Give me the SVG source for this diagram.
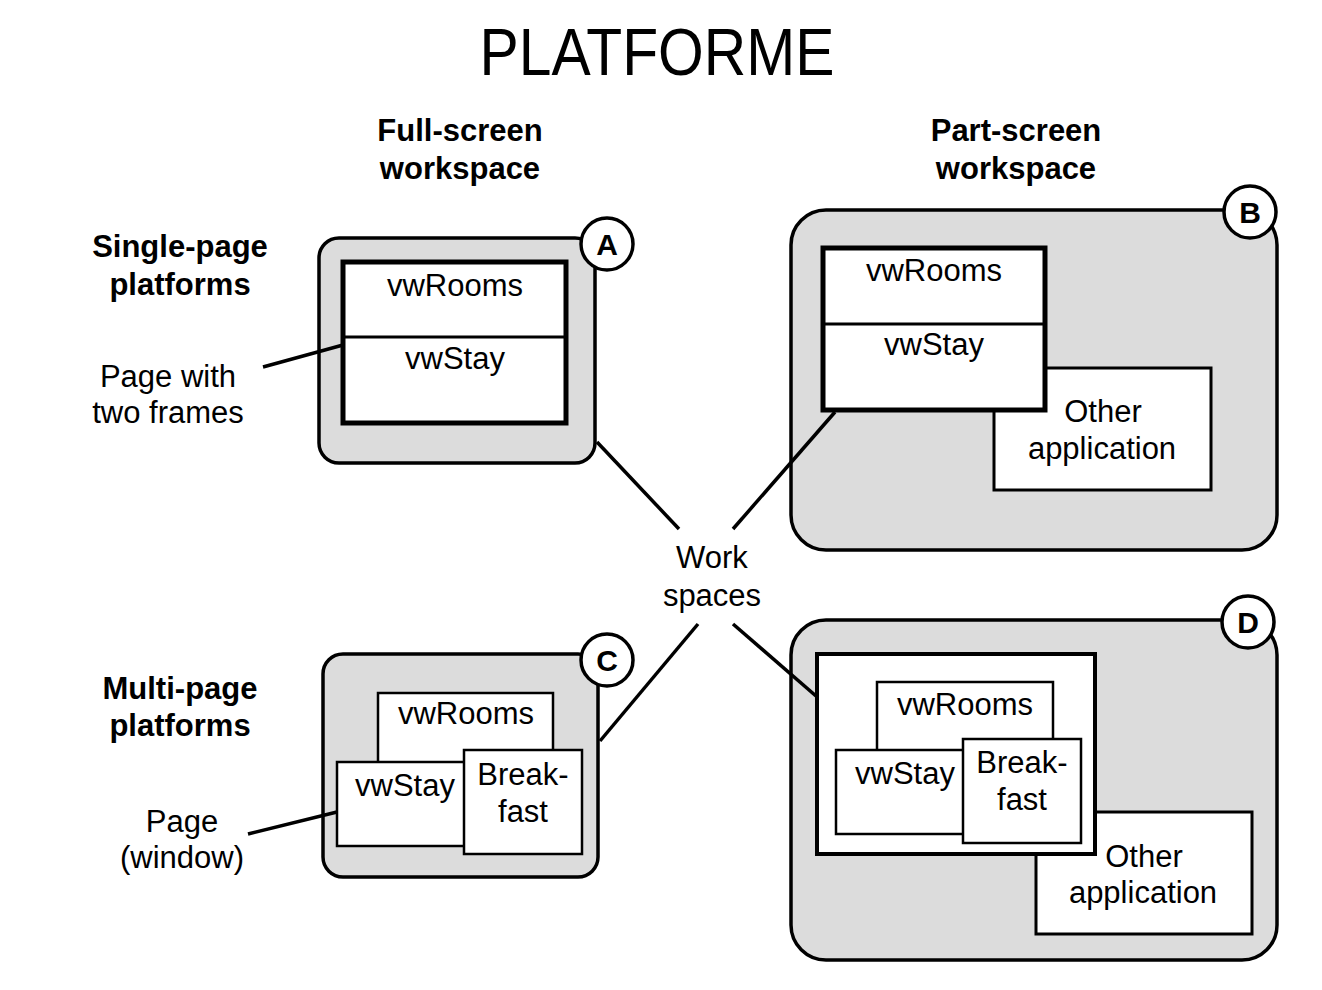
<svg xmlns="http://www.w3.org/2000/svg" width="1322" height="990" viewBox="0 0 1322 990">
<style>
text{font-family:"Liberation Sans",Arial,sans-serif;fill:#000;text-anchor:middle}
.t{font-size:31px}
.b{font-size:31px;font-weight:bold}
.ws{fill:#dcdcdc;stroke:#000;stroke-width:3.5}
.win{fill:#fff;stroke:#000;stroke-width:5}
.w{fill:#fff;stroke:#000;stroke-width:3}
.thin{fill:#fff;stroke:#000;stroke-width:2.5}
.badge{fill:#fff;stroke:#000;stroke-width:3.5}
.lbl{font-size:30px;font-weight:bold}
.c{stroke:#000;stroke-width:3.5;fill:none}
</style>
<rect width="1322" height="990" fill="#fff"/>
<text x="657" y="75" style="font-family:'Liberation Sans',sans-serif;font-size:66px" textLength="355" lengthAdjust="spacingAndGlyphs">PLATFORME</text>
<g id="headers">
<text class="b" x="460" y="141">Full-screen</text>
<text class="b" x="460" y="179">workspace</text>
<text class="b" x="1016" y="141">Part-screen</text>
<text class="b" x="1016" y="179">workspace</text>
<text class="b" x="180" y="257">Single-page</text>
<text class="b" x="180" y="295">platforms</text>
<text class="b" x="180" y="699">Multi-page</text>
<text class="b" x="180" y="736">platforms</text>
</g>
<g id="label-page-frames">
<text class="t" x="168" y="387">Page with</text>
<text class="t" x="168" y="423">two frames</text>
</g>
<g id="label-page-window">
<text class="t" x="182" y="832">Page</text>
<text class="t" x="182" y="868">(window)</text>
</g>
<g id="label-workspaces">
<text class="t" x="712" y="568">Work</text>
<text class="t" x="712" y="606">spaces</text>
</g>
<g id="workspace-A">
<rect class="ws" x="319" y="238" width="276" height="225" rx="20"/>
<rect class="win" x="343" y="262" width="223" height="161"/>
<line x1="343" y1="337" x2="566" y2="337" stroke="#000" stroke-width="3"/>
<text class="t" x="455" y="296">vwRooms</text>
<text class="t" x="455" y="369">vwStay</text>
<circle class="badge" cx="607" cy="244" r="26"/>
<text class="lbl" x="607" y="255">A</text>
</g>
<g id="workspace-B">
<rect class="ws" x="791" y="210" width="486" height="340" rx="35"/>
<rect class="w" x="994" y="368" width="217" height="122"/>
<text class="t" x="1103" y="422">Other</text>
<text class="t" x="1102" y="459">application</text>
<rect class="win" x="823" y="248" width="222" height="162"/>
<line x1="823" y1="324" x2="1045" y2="324" stroke="#000" stroke-width="3"/>
<text class="t" x="934" y="281">vwRooms</text>
<text class="t" x="934" y="355">vwStay</text>
<circle class="badge" cx="1250" cy="212" r="26"/>
<text class="lbl" x="1250" y="223">B</text>
</g>
<g id="workspace-C">
<rect class="ws" x="323" y="654" width="275" height="223" rx="20"/>
<rect class="thin" x="378" y="693" width="175" height="75"/>
<text class="t" x="466" y="724">vwRooms</text>
<rect class="thin" x="337" y="762" width="135" height="84"/>
<text class="t" x="405" y="796">vwStay</text>
<rect class="thin" x="464" y="750" width="118" height="104"/>
<text class="t" x="523" y="785">Break-</text>
<text class="t" x="523" y="822">fast</text>
<circle class="badge" cx="607" cy="660" r="26"/>
<text class="lbl" x="607" y="671">C</text>
</g>
<g id="workspace-D">
<rect class="ws" x="791" y="620" width="486" height="340" rx="35"/>
<rect class="w" x="1036" y="812" width="216" height="122"/>
<text class="t" x="1144" y="867">Other</text>
<text class="t" x="1143" y="903">application</text>
<rect class="win" x="817" y="654" width="278" height="200" style="stroke-width:4"/>
<rect class="thin" x="877" y="682" width="176" height="75"/>
<text class="t" x="965" y="715">vwRooms</text>
<rect class="thin" x="836" y="750" width="135" height="84"/>
<text class="t" x="905" y="784">vwStay</text>
<rect class="thin" x="963" y="739" width="118" height="104"/>
<text class="t" x="1022" y="773">Break-</text>
<text class="t" x="1022" y="810">fast</text>
<circle class="badge" cx="1248" cy="622" r="26"/>
<text class="lbl" x="1248" y="633">D</text>
</g>
<g id="connectors">
<line class="c" x1="263" y1="367" x2="343" y2="345"/>
<line class="c" x1="248" y1="834" x2="337" y2="812"/>
<line class="c" x1="597" y1="442" x2="679" y2="529"/>
<line class="c" x1="835" y1="412" x2="733" y2="529"/>
<line class="c" x1="600" y1="741" x2="698" y2="624"/>
<line class="c" x1="816" y1="696" x2="733" y2="624"/>
</g>
</svg>
